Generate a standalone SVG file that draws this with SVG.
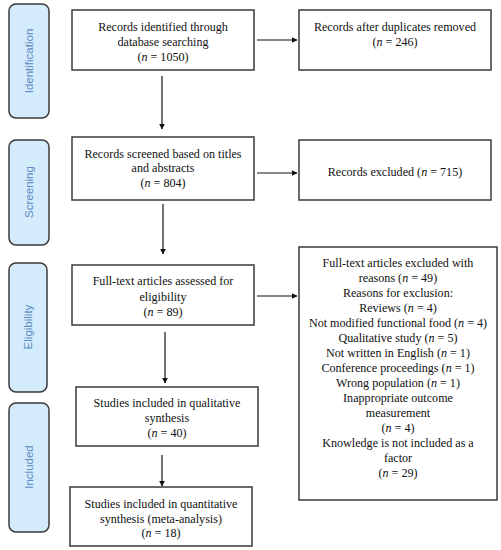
<svg xmlns="http://www.w3.org/2000/svg" width="501" height="550" viewBox="0 0 501 550">
<defs>
<style>
.box{fill:#fff;stroke:#3a3a3a;stroke-width:1.5}
.side{fill:#d4ebfb;stroke:#3a3a3a;stroke-width:1.5}
.t{font-family:"Liberation Serif","Times New Roman",serif;font-size:12.1px;fill:#111;text-anchor:middle}
.s{font-family:"Liberation Sans",Arial,sans-serif;font-size:11.5px;fill:#5b8ac4;text-anchor:middle}
.c{stroke:#111;stroke-width:1.2;fill:none;marker-end:url(#ah)}
</style>
<marker id="ah" viewBox="0 0 10 10" refX="9" refY="5" markerWidth="6" markerHeight="6" markerUnits="userSpaceOnUse" orient="auto">
<path d="M0,0 L10,5 L0,10 z" fill="#111"/>
</marker>
</defs>
<rect width="501" height="550" fill="#fff"/>
<g id="stage-identification"><rect class="side" x="9" y="4" width="40" height="114" rx="7"/><text class="s" transform="translate(33,61) rotate(-90)">Identification</text></g>
<g id="stage-screening"><rect class="side" x="9" y="140" width="40" height="105" rx="7"/><text class="s" transform="translate(33,192) rotate(-90)">Screening</text></g>
<g id="stage-eligibility"><rect class="side" x="9" y="263" width="38" height="129" rx="7"/><text class="s" transform="translate(32,327) rotate(-90)">Eligibility</text></g>
<g id="stage-included"><rect class="side" x="9" y="403" width="40" height="129" rx="7"/><text class="s" transform="translate(33,467) rotate(-90)">Included</text></g>

<g id="n1"><rect class="box" x="72" y="10" width="182" height="60"/>
<text class="t" x="163" y="31">Records identified through</text>
<text class="t" x="163" y="46">database searching</text>
<text class="t" x="163" y="61">(<tspan font-style="italic">n</tspan> = 1050)</text></g>
<g id="n2"><rect class="box" x="299" y="10" width="192" height="60"/>
<text class="t" x="395" y="31">Records after duplicates removed</text>
<text class="t" x="395" y="46">(<tspan font-style="italic">n</tspan> = 246)</text></g>
<g id="n3"><rect class="box" x="72" y="137" width="182" height="63"/>
<text class="t" x="163" y="158">Records screened based on titles</text>
<text class="t" x="163" y="172">and abstracts</text>
<text class="t" x="163" y="187">(<tspan font-style="italic">n</tspan> = 804)</text></g>
<g id="n4"><rect class="box" x="299" y="140" width="192" height="60"/>
<text class="t" x="395" y="176">Records excluded (<tspan font-style="italic">n</tspan> = 715)</text></g>
<g id="n5"><rect class="box" x="72" y="265" width="182" height="60"/>
<text class="t" x="163" y="285">Full-text articles assessed for</text>
<text class="t" x="163" y="301">eligibility</text>
<text class="t" x="163" y="316">(<tspan font-style="italic">n</tspan> = 89)</text></g>
<g id="n6"><rect class="box" x="299" y="247" width="198" height="253"/>
<text class="t" x="398" y="267">Full-text articles excluded with</text>
<text class="t" x="398" y="282">reasons (<tspan font-style="italic">n</tspan> = 49)</text>
<text class="t" x="398" y="297">Reasons for exclusion:</text>
<text class="t" x="398" y="312">Reviews (<tspan font-style="italic">n</tspan> = 4)</text>
<text class="t" x="398" y="327">Not modified functional food (<tspan font-style="italic">n</tspan> = 4)</text>
<text class="t" x="398" y="342">Qualitative study (<tspan font-style="italic">n</tspan> = 5)</text>
<text class="t" x="398" y="357">Not written in English (<tspan font-style="italic">n</tspan> = 1)</text>
<text class="t" x="398" y="372">Conference proceedings (<tspan font-style="italic">n</tspan> = 1)</text>
<text class="t" x="398" y="387">Wrong population (<tspan font-style="italic">n</tspan> = 1)</text>
<text class="t" x="398" y="402">Inappropriate outcome</text>
<text class="t" x="398" y="417">measurement</text>
<text class="t" x="398" y="432">(<tspan font-style="italic">n</tspan> = 4)</text>
<text class="t" x="398" y="447">Knowledge is not included as a</text>
<text class="t" x="398" y="462">factor</text>
<text class="t" x="398" y="477">(<tspan font-style="italic">n</tspan> = 29)</text></g>
<g id="n7"><rect class="box" x="76" y="387" width="182" height="59"/>
<text class="t" x="167" y="407">Studies included in qualitative</text>
<text class="t" x="167" y="422">synthesis</text>
<text class="t" x="167" y="437">(<tspan font-style="italic">n</tspan> = 40)</text></g>
<g id="n8"><rect class="box" x="70" y="487" width="182" height="59"/>
<text class="t" x="161" y="508">Studies included in quantitative</text>
<text class="t" x="161" y="523">synthesis (meta-analysis)</text>
<text class="t" x="161" y="537">(<tspan font-style="italic">n</tspan> = 18)</text></g>

<g id="connectors">
<line class="c" x1="162" y1="76" x2="162" y2="129"/>
<line class="c" x1="163" y1="204" x2="163" y2="254"/>
<line class="c" x1="165" y1="332" x2="165" y2="383"/>
<line class="c" x1="162" y1="455" x2="162" y2="486"/>
<line class="c" x1="257" y1="40" x2="297" y2="40"/>
<line class="c" x1="257" y1="173" x2="297" y2="173"/>
<line class="c" x1="257" y1="296" x2="297" y2="296"/>
</g>
</svg>
